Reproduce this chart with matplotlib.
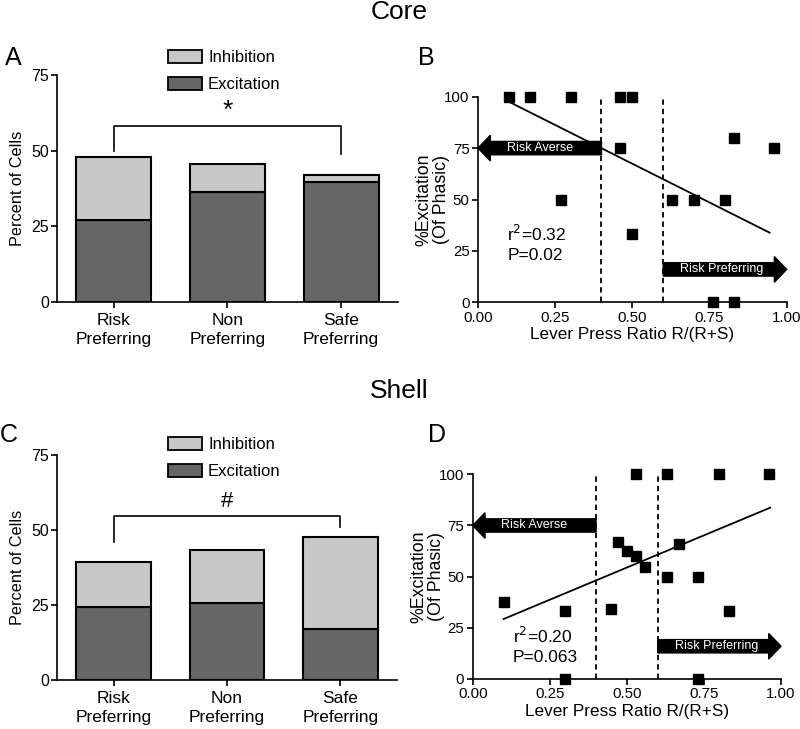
import numpy as np
import matplotlib
matplotlib.use("Agg")
import matplotlib.pyplot as plt
from matplotlib.patches import Patch, FancyArrow

plt.rcParams['font.family'] = ['Liberation Sans', 'DejaVu Sans']

# ---------------- data ----------------
categories = ["Risk\nPreferring", "Non\nPreferring", "Safe\nPreferring"]
core_excitation = [27.1, 36.2, 39.5]
core_total = [47.9, 45.5, 41.8]
shell_excitation = [24.3, 25.8, 16.9]
shell_total = [39.2, 43.3, 47.7]
core_inhibition = [t - e for t, e in zip(core_total, core_excitation)]
shell_inhibition = [t - e for t, e in zip(shell_total, shell_excitation)]

core_bracket = [50.0, 58.2, 58.2, 48.9]
shell_bracket = [46.1, 54.7, 54.7, 50.9]

core_x = [0.10, 0.17, 0.30, 0.46, 0.50, 0.46, 0.27, 0.50, 0.83, 0.96, 0.63, 0.70, 0.80, 0.76, 0.83]
core_y = [100, 100, 100, 100, 100, 75, 50, 33.3, 80, 75, 50, 50, 50, 0, 0]
core_fit_slope, core_fit_intercept = -75.4, 105.1
core_fit_range = [0.10, 0.945]

shell_x = [0.10, 0.30, 0.30, 0.45, 0.47, 0.50, 0.53, 0.56, 0.53, 0.63, 0.63, 0.67, 0.73, 0.73, 0.80, 0.96, 0.83]
shell_y = [37.5, 33.3, 0, 34, 66.7, 62.5, 60, 54.5, 100, 100, 50, 66, 50, 0, 100, 100, 33.3]
shell_fit_slope, shell_fit_intercept = 62.9, 23.0
shell_fit_range = [0.10, 0.965]

bar_ticks = [0, 25, 50, 75]
scatter_yticks = [0, 25, 50, 75, 100]
scatter_xticks = [0.0, 0.25, 0.5, 0.75, 1.0]
scatter_xticklabels = ["0.00", "0.25", "0.50", "0.75", "1.00"]
group_bounds = [0.40, 0.60]

EXC = "#666666"
INH = "#c8c8c8"

W, H = 800, 729
fig = plt.figure(figsize=(W / 100, H / 100), dpi=100)


def px_axes(l, t, r, b):
    return fig.add_axes([l / W, 1 - b / H, (r - l) / W, (b - t) / H])


def style(ax):
    for s in ["top", "right"]:
        ax.spines[s].set_visible(False)
    for s in ["left", "bottom"]:
        ax.spines[s].set_linewidth(1.2)
    ax.tick_params(direction="out", length=4, width=1.2, colors="black")


def bar_panel(ax, exc, inh, bracket, sym, sym_off, legend_top):
    x = np.arange(len(categories))
    ax.bar(x, exc, width=0.66, color=EXC, edgecolor="black", linewidth=1.5)
    ax.bar(x, inh, bottom=exc, width=0.66, color=INH, edgecolor="black", linewidth=1.5)
    ax.set_xlim(-0.5, 2.5)
    ax.set_ylim(0, 75)
    ax.set_yticks(bar_ticks)
    ax.set_xticks(x)
    ax.set_xticklabels(categories, fontsize=12.5, linespacing=1.35)
    style(ax)
    ax.tick_params(axis="y", labelsize=11.5, pad=1.5)
    ax.tick_params(axis="x", pad=4)
    ax.set_ylabel("Percent of Cells", fontsize=11.7, labelpad=5)
    ax.plot([0, 0, 2, 2], bracket, color="black", lw=1.2, clip_on=False)
    ax.text(1, bracket[1] + sym_off, sym, ha="center", va="bottom", fontsize=sym_size[sym])
    handles = [Patch(facecolor=INH, edgecolor="black", linewidth=1.3, label="Inhibition"),
               Patch(facecolor=EXC, edgecolor="black", linewidth=1.3, label="Excitation")]
    ax.legend(handles=handles, loc="upper left", bbox_to_anchor=(168 / W, 1 - legend_top / H),
              bbox_transform=fig.transFigure, frameon=False, fontsize=12, borderpad=0,
              borderaxespad=0, handlelength=2.05, handleheight=0.8, handletextpad=0.35,
              labelspacing=0.72)


sym_size = {"*": 19, "#": 16}


def scatter_panel(ax, xs, ys, slope, intercept, frange, ra_y, rp_y, stat_xy, stat_txt):
    ax.set_xlim(0, 1)
    ax.set_ylim(0, 100)
    for gx in group_bounds:
        ax.plot([gx, gx], [0, 100], color="black", lw=1.3, ls=(0, (3, 2.2)))
    ax.add_patch(FancyArrow(group_bounds[0], ra_y, -group_bounds[0], 0, width=6.5, head_width=12.5,
                            head_length=0.04, length_includes_head=True, color="black",
                            clip_on=False, zorder=3))
    ax.add_patch(FancyArrow(group_bounds[1], rp_y, 1 - group_bounds[1], 0, width=6.5, head_width=12.5,
                            head_length=0.04, length_includes_head=True, color="black",
                            clip_on=False, zorder=3))
    ax.text(group_bounds[0] / 2, ra_y, "Risk Averse", color="white", fontsize=9,
            ha="center", va="center", zorder=4)
    ax.text((group_bounds[1] + 0.98) / 2, rp_y, "Risk Preferring", color="white", fontsize=9,
            ha="center", va="center", zorder=4)
    fx = np.array(frange)
    ax.plot(fx, slope * fx + intercept, color="black", lw=1.3, zorder=4)
    ax.plot(xs, ys, "s", color="black", ms=7.4, clip_on=False, zorder=5)
    ax.text(stat_xy[0], stat_xy[1], stat_txt, fontsize=12.5, ha="left", va="center",
            linespacing=1.3)
    ax.set_xticks(scatter_xticks)
    ax.set_xticklabels(scatter_xticklabels)
    ax.set_yticks(scatter_yticks)
    style(ax)
    ax.tick_params(labelsize=10.8, pad=2)
    ax.set_xlabel("Lever Press Ratio R/(R+S)", fontsize=12.3, labelpad=2)
    ax.set_ylabel("%Excitation\n(Of Phasic)", fontsize=12.8, labelpad=-4, linespacing=1.05)


axA = px_axes(57, 75, 398, 302)
bar_panel(axA, core_excitation, core_inhibition, core_bracket, "*", 1.0, 50)
axC = px_axes(57, 455, 397, 680)
bar_panel(axC, shell_excitation, shell_inhibition, shell_bracket, "#", 1.2, 437)

axB = px_axes(478, 96.7, 786.7, 302.3)
scatter_panel(axB, core_x, core_y, core_fit_slope, core_fit_intercept, core_fit_range,
              75, 16, (0.095, 28.5), "r$^2$=0.32\nP=0.02")
axD = px_axes(472.7, 474.3, 781, 679)
scatter_panel(axD, shell_x, shell_y, shell_fit_slope, shell_fit_intercept, shell_fit_range,
              75, 16, (0.13, 16.5), "r$^2$=0.20\nP=0.063")

fig.text(399 / W, 1 - 19.3 / H, "Core", ha="center", va="baseline", fontsize=19)
fig.text(399 / W, 1 - 398 / H, "Shell", ha="center", va="baseline", fontsize=19)
fig.text(5 / W, 1 - 65 / H, "A", ha="left", va="baseline", fontsize=18)
fig.text(418 / W, 1 - 65 / H, "B", ha="left", va="baseline", fontsize=18)
fig.text(0 / W, 1 - 441.7 / H, "C", ha="left", va="baseline", fontsize=18)
fig.text(428 / W, 1 - 441.7 / H, "D", ha="left", va="baseline", fontsize=18)

fig.savefig("out.png", dpi=100, facecolor="white")
